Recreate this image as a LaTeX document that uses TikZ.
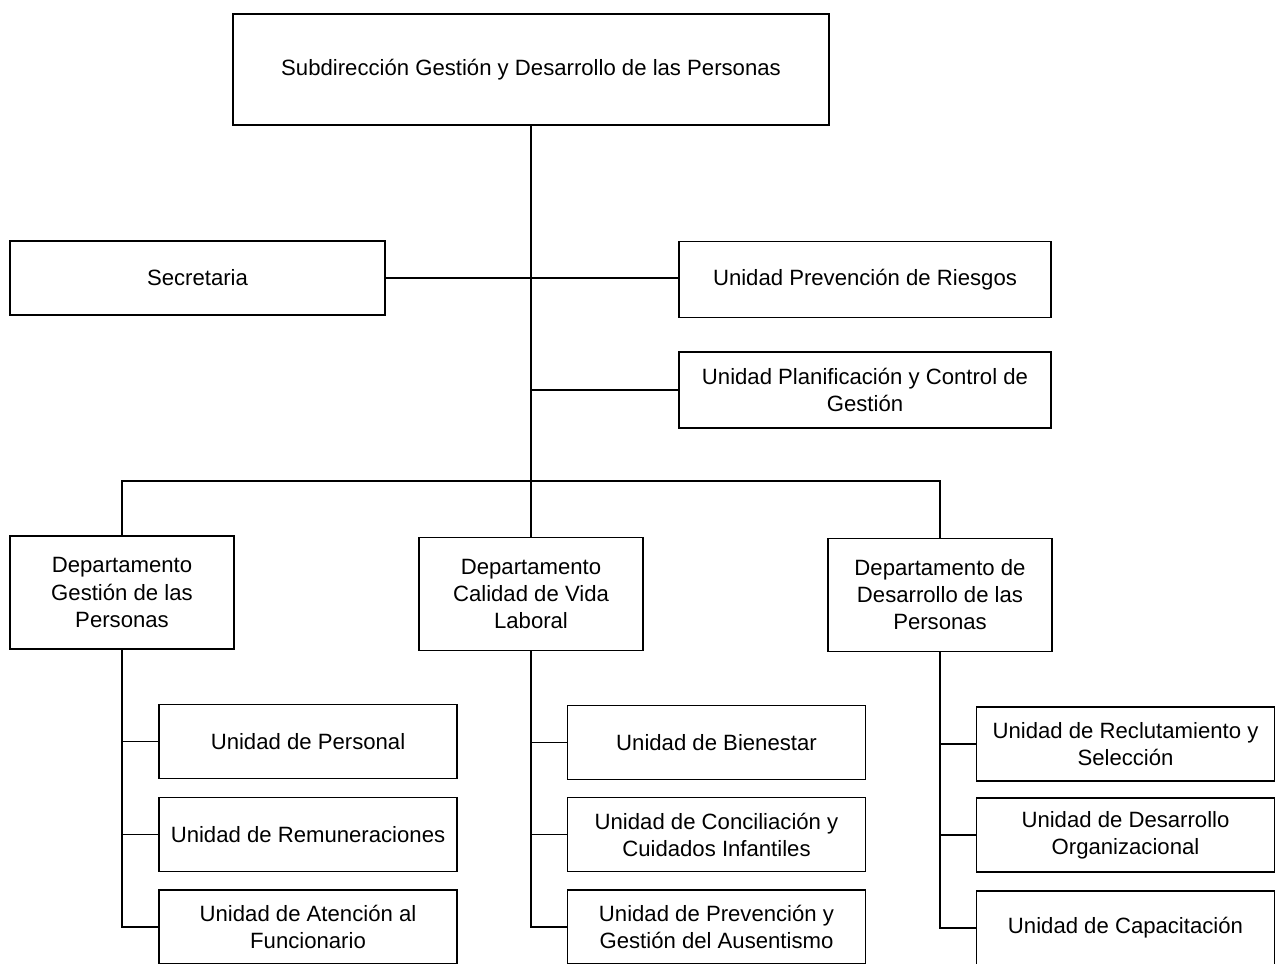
\documentclass[tikz,border=0pt]{standalone}
\usepackage{fontspec}
\setmainfont{Liberation Sans}
\usepackage{tikz}

\begin{document}
\begin{tikzpicture}[x=0.02cm, y=0.02cm,
  every node/.style={font=\fontsize{12.6}{15.4}\selectfont, inner sep=0pt, align=center},
  box/.style={draw=black, line width=0.85pt, fill=white},
  topbox/.style={box, minimum width=11.92cm, minimum height=2.22cm},
  sidebox/.style={box, minimum width=7.44cm, minimum height=1.52cm},
  deptbox/.style={box, minimum width=4.48cm, minimum height=2.26cm},
  unitbox/.style={box, minimum width=5.96cm, minimum height=1.48cm},
  link/.style={draw=black, line width=0.65pt}]
\useasboundingbox (0,0) rectangle (1277,-963);
\node [topbox] (sub) at (531,-69.5) {Subdirección Gestión y Desarrollo de las Personas};
\node [sidebox, minimum width=7.5cm, minimum height=1.48cm] (sec) at (197.5,-278) {Secretaria};
\node [sidebox] (riesgos) at (865,-279.5) {Unidad Prevención de Riesgos};
\node [sidebox] (plan) at (865,-390) {Unidad Planificación y Control de\\Gestión};
\coordinate (bus) at (531,-481);
\node [deptbox] (dgp) at (122,-592.5) {Departamento\\Gestión de las\\Personas};
\node [deptbox] (dcv) at (531,-594) {Departamento\\Calidad de Vida\\Laboral};
\node [deptbox] (ddp) at (940,-595) {Departamento de\\Desarrollo de las\\Personas};
\node [unitbox] (personal) at (308,-741.5) {Unidad de Personal};
\node [unitbox] (remun) at (308,-834.5) {Unidad de Remuneraciones};
\node [unitbox] (atencion) at (308,-927) {Unidad de Atención al\\Funcionario};
\node [unitbox] (bienestar) at (716.5,-742.5) {Unidad de Bienestar};
\node [unitbox] (concil) at (716.5,-834.5) {Unidad de Conciliación y\\Cuidados Infantiles};
\node [unitbox] (ausent) at (716.5,-927) {Unidad de Prevención y\\Gestión del Ausentismo};
\node [unitbox] (reclut) at (1125.5,-744) {Unidad de Reclutamiento y\\Selección};
\node [unitbox] (desorg) at (1125.5,-835) {Unidad de Desarrollo\\Organizacional};
\node [unitbox] (capac) at (1125.5,-928) {Unidad de Capacitación};
\draw [link] (sub.south) -- (dcv.north);
\draw [link] (sec.east) -- (sec.east -| riesgos.west);
\draw [link] (plan.west) -- (plan.west -| sub.south);
\draw [link] (dgp.north) |- (bus) -| (ddp.north);
\draw [link] (dgp.south) |- (atencion.west);
\draw [link] (personal.west) -- (personal.west -| dgp.south);
\draw [link] (remun.west) -- (remun.west -| dgp.south);
\draw [link] (dcv.south) |- (ausent.west);
\draw [link] (bienestar.west) -- (bienestar.west -| dcv.south);
\draw [link] (concil.west) -- (concil.west -| dcv.south);
\draw [link] (ddp.south) |- (capac.west);
\draw [link] (reclut.west) -- (reclut.west -| ddp.south);
\draw [link] (desorg.west) -- (desorg.west -| ddp.south);
\end{tikzpicture}
\end{document}
